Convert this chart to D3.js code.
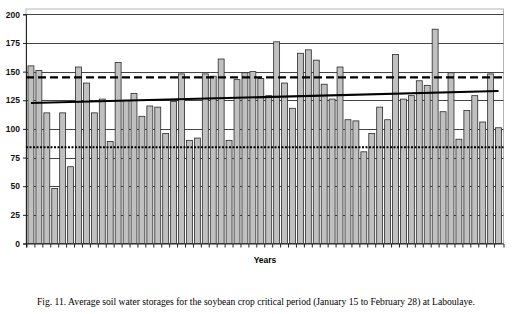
<!DOCTYPE html>
<html>
<head>
<meta charset="utf-8">
<script src="https://cdn.jsdelivr.net/npm/d3@7"></script>
<style>
  body { margin: 0; background: #fff; }
  svg { display: block; }
</style>
</head>
<body>
<div id="chart"></div>
<script>
// 60 seasons, labels are not printed on the chart
const years = d3.range(1940, 2000);
// average soil water storage (mm)
const storage = [
  155, 151, 114, 48, 114, 67, 154, 140, 114, 126,
  89, 158, 125, 131, 111, 120, 119, 96, 124, 148,
  90, 92, 148, 146, 161, 90, 143, 149, 150, 144,
  129, 176, 140, 118, 166, 169, 160, 139, 126, 154,
  108, 107, 80, 96, 119, 108, 165, 126, 129, 142,
  138, 187, 115, 149, 91, 116, 129, 106, 148, 101
];
const yTicks = [0, 25, 50, 75, 100, 125, 150, 175, 200];
const upperLine = 145;   // dashed
const lowerLine = 84;    // dotted
const trendEnds = [122.5, 133]; // linear trend, first and last year

const w = 512, h = 314;
const margin = {top: 9, right: 9, bottom: 70, left: 26};

const svg = d3.select("#chart")
  .append("svg")
  .attr("width", w)
  .attr("height", h);

const x = d3.scaleBand()
  .domain(years)
  .range([margin.left, w - margin.right + 0.5])
  .paddingInner(0.25)
  .paddingOuter(0.25);

const y = d3.scaleLinear()
  .domain([0, 200])
  .range([243.5, 14.3]);

const x0 = margin.left, x1 = w - margin.right + 0.5;

// plot frame
svg.append("rect")
  .attr("x", x0)
  .attr("y", margin.top)
  .attr("width", x1 - x0)
  .attr("height", y(0) - margin.top)
  .style("fill", "none")
  .style("stroke", "#b5b5b5")
  .style("stroke-width", 1);

// gridlines
svg.selectAll(".grid")
  .data(yTicks.filter(d => d > 0))
  .enter()
  .append("line")
  .attr("class", "grid")
  .attr("x1", x0)
  .attr("x2", x1)
  .attr("y1", d => Math.round(y(d)) + 0.5)
  .attr("y2", d => Math.round(y(d)) + 0.5)
  .style("stroke", "#444")
  .style("stroke-width", 1);

// bars
svg.selectAll(".bar")
  .data(storage)
  .enter()
  .append("rect")
  .attr("class", "bar")
  .attr("x", (d, i) => x(years[i]))
  .attr("y", d => y(d))
  .attr("width", x.bandwidth())
  .attr("height", d => y(0) - y(d))
  .style("fill", "#c0c0c0")
  .style("stroke", "#2a2a2a")
  .style("stroke-width", 0.8);

// axes
const yAxis = svg.append("g")
  .attr("transform", `translate(${x0},0)`)
  .call(d3.axisLeft(y).tickValues(yTicks).tickSize(3).tickPadding(3));
yAxis.select(".domain").style("stroke", "#222");
yAxis.selectAll("line").style("stroke", "#222");
yAxis.selectAll("text")
  .style("font-family", "'Liberation Sans', Arial, sans-serif")
  .style("font-size", "8.5px")
  .style("font-weight", "bold")
  .style("fill", "#111");

const xAxis = svg.append("g")
  .attr("transform", `translate(0,${y(0)})`)
  .call(d3.axisBottom(x).tickSize(4).tickFormat(""));
xAxis.select(".domain").style("stroke", "#222");
// ticks sit on band boundaries
xAxis.selectAll(".tick")
  .attr("transform", d => `translate(${x(d) - x.step() * x.paddingInner() / 2},0)`);
xAxis.selectAll("line").style("stroke", "#222");

// reference lines
svg.append("line")
  .attr("x1", x0).attr("x2", x1)
  .attr("y1", y(upperLine)).attr("y2", y(upperLine))
  .style("stroke", "#000")
  .style("stroke-width", 2.2)
  .style("stroke-dasharray", "8,4");

svg.append("line")
  .attr("x1", x0).attr("x2", x1)
  .attr("y1", y(lowerLine)).attr("y2", y(lowerLine))
  .style("stroke", "#000")
  .style("stroke-width", 2)
  .style("stroke-dasharray", "2,1.5");

const first = years[0], last = years[years.length - 1];
svg.append("line")
  .attr("x1", x(first) + x.bandwidth() / 2)
  .attr("x2", x(last) + x.bandwidth() / 2)
  .attr("y1", y(trendEnds[0]))
  .attr("y2", y(trendEnds[1]))
  .style("stroke", "#000")
  .style("stroke-width", 2);

// labels
svg.append("text")
  .attr("x", 265)
  .attr("y", 263)
  .attr("text-anchor", "middle")
  .style("font-family", "'Liberation Sans', Arial, sans-serif")
  .style("font-size", "8.5px")
  .style("font-weight", "bold")
  .text("Years");

svg.append("text")
  .attr("x", 37)
  .attr("y", 305)
  .attr("textLength", 438)
  .attr("lengthAdjust", "spacingAndGlyphs")
  .style("font-family", "'Liberation Serif', 'Times New Roman', serif")
  .style("font-size", "9.6px")
  .text("Fig. 11. Average soil water storages for the soybean crop critical period (January 15 to February 28) at Laboulaye.");
</script>
</body>
</html>
